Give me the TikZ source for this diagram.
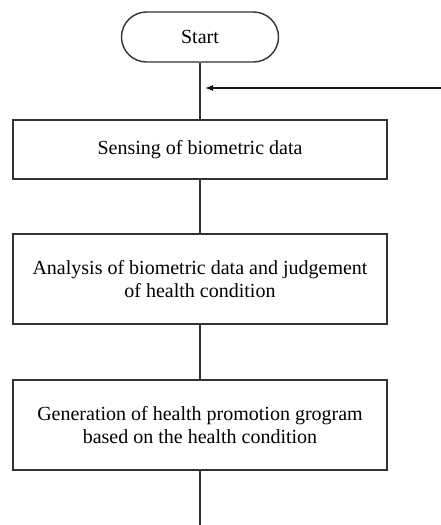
\documentclass[tikz,border=0pt]{standalone}
\usepackage{fontspec}
\setmainfont{Liberation Serif}
\usepackage{tikz}
\usetikzlibrary{arrows.meta,shapes.misc}
\tikzstyle{terminal}=[rounded rectangle,draw=black!80,line width=1.4pt,minimum width=157pt,minimum height=50pt,inner sep=0pt]
\tikzstyle{stepbox}=[rectangle,draw=black!80,line width=1.4pt,minimum width=374pt,align=center,inner sep=0pt]
\tikzstyle{edge} = [draw,line width=1.4pt,black!80,-]

\begin{document}
\begin{tikzpicture}[x=1pt,y=1pt,font=\fontsize{20}{23.5}\selectfont]
    \useasboundingbox (0,0) rectangle (441,-525);
    % Start of the flow
    \node[terminal] (start) at (200,-37) {Start};
    % Then the three steps
    \foreach \pos/\name/\boxh/\txt in {{(200,-149.5)/sense/59/Sensing of biometric data},
        {(200,-279)/analyse/90/Analysis of biometric data and judgement\\of health condition},
        {(200,-425)/generate/90/Generation of health promotion grogram\\based on the health condition}}
        \node[stepbox,minimum height=\boxh pt] (\name) at \pos {\txt};
    % Connect steps with edges
    \foreach \source/ \dest in {start.south/sense.north, sense.south/analyse.north, analyse.south/generate.north}
        \path[edge] (\source) -- (\dest) ;
    \coordinate (end) at (200,-525);
    \path[edge] (generate.south) -- (end);
    % Loop back into the flow
    \coordinate (back) at (441,-88);
    \path[edge,line width=1.1pt,black!90,-{Latex[length=8pt,width=6pt]},shorten >=5pt] (back) -- (start |- back);
\end{tikzpicture}
\end{document}
